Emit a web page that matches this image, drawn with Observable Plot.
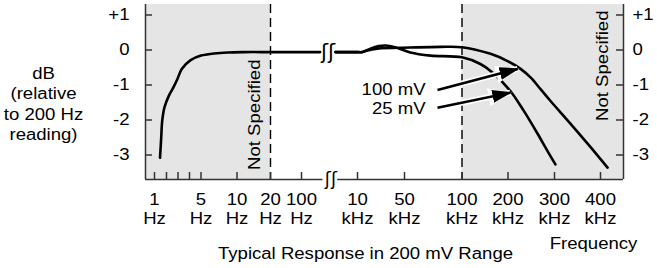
<!DOCTYPE html>
<html><head><meta charset="utf-8">
<script src="https://cdn.jsdelivr.net/npm/d3@7"></script>
<script src="https://cdn.jsdelivr.net/npm/@observablehq/plot@0.6"></script>
<style>
html,body{margin:0;padding:0;background:#fff;}
#chart{width:657px;height:268px;overflow:hidden;}
</style></head><body><div id="chart"></div>
<script>
// ---- data ----
const xTicks = [1, 2, 3, 4, 5, 10, 20, 100, 10000, 50000, 100000, 200000, 300000, 400000];
const xTickLabels = ["1\nHz", "", "", "", "5\nHz", "10\nHz", "20\nHz", "100\nHz", "10\nkHz", "50\nkHz", "100\nkHz", "200\nkHz", "300\nkHz", "400\nkHz"];
const yTicks = [1, 0, -1, -2, -3];
const yTickLabels = ["+1", "0", "-1", "-2", "-3"];

// common low-frequency segment (before the axis break)
const lowFreq = [1.46, 1.56, 1.64, 1.83, 2.2, 2.6, 2.95, 3.33, 4.1, 5, 6.8, 8.7, 12, 20, 100, 3400];
const lowDb   = [-3.08, -2.5, -2.03, -1.64, -1.31, -1.07, -0.83, -0.54, -0.29, -0.16, -0.1, -0.07, -0.06, -0.06, -0.06, -0.06];

// 100 mV curve (after the break)
const mv100Freq = [6100, 10000, 14000, 17600, 27000, 55000, 81000, 100000, 162000, 198000, 227000, 249000, 270000, 291000, 335000, 378000, 416000];
const mv100Db   = [-0.06, -0.06, -0.06, -0.02, 0.04, 0.07, 0.09, 0.08, -0.11, -0.31, -0.54, -0.79, -1.12, -1.45, -2.11, -2.77, -3.36];

// 25 mV curve (after the break)
const mv25Freq = [6100, 10000, 14000, 21000, 28000, 34000, 42000, 55000, 72600, 100000, 140000, 166000, 205000, 234000, 264000, 285000, 302000];
const mv25Db   = [-0.06, -0.06, -0.06, 0.04, 0.11, 0.13, 0.08, -0.07, -0.16, -0.21, -0.40, -0.64, -1.17, -1.74, -2.40, -2.89, -3.27];

const shadeFrom = [0, 100000];
const shadeTo = [20, 452000];
const specLimits = [20, 100000];
const notSpecFreq = [15.2, 405000];
const notSpecDb = [-1.85, -0.45];

const arrowLabels = ["100 mV", "25 mV"];
const labelFreq = [68300, 68300];
const labelDb = [-1.14, -1.68];
const arrowFromFreq = [78700, 78700];
const arrowFromDb = [-1.14, -1.65];
const arrowToFreq = [220600, 205000];
const arrowToDb = [-0.54, -1.22];

const curveBreakFreq = 4800;
const axisBreakFreq = 5300;
const axisSegFrom = [0, 6500];
const axisSegTo = [3900, 452000];
const yMin = -3.70, yMax = 1.30;

// ---- scale anchors (broken, hand-drawn frequency axis) ----
const axisStops = [0, 1, 2, 3, 4, 5, 10, 20, 100, 10000, 50000, 100000, 200000, 300000, 400000, 452000];
const axisPx    = [145, 154, 166, 177.5, 189, 200.5, 236.5, 270, 301, 357, 404, 461.5, 507.5, 554, 600, 623];

const zip2 = (a, b) => a.map((f, i) => ({f, db: b[i]}));
const low = zip2(lowFreq, lowDb);
const c100 = zip2(mv100Freq, mv100Db);
const c25 = zip2(mv25Freq, mv25Db);
const shades = shadeFrom.map((a, i) => ({a, b: shadeTo[i]}));
const notSpec = notSpecFreq.map((f, i) => ({f, db: notSpecDb[i]}));
const arrows = arrowLabels.map((t, i) => ({t, lf: labelFreq[i], ld: labelDb[i], x1: arrowFromFreq[i], y1: arrowFromDb[i], x2: arrowToFreq[i], y2: arrowToDb[i]}));
const axisSegs = axisSegFrom.map((a, i) => ({a, b: axisSegTo[i]}));
const xFmt = new Map(xTicks.map((t, i) => [t, xTickLabels[i]]));
const yFmt = new Map(yTicks.map((t, i) => [t, yTickLabels[i]]));

const W = 657, H = 268, mL = 145, mR = 34, mT = 4, mB = 89;
const frameW = W - mL - mR, frameH = H - mT - mB;
const axisColor = "#333";

const plot = Plot.plot({
  width: W, height: H,
  marginLeft: mL, marginRight: mR, marginTop: mT, marginBottom: mB,
  style: {fontFamily: "'Liberation Sans', Arial, Helvetica, sans-serif", fontSize: "16px", background: "#fff", overflow: "visible"},
  x: {type: "linear", domain: axisStops, range: axisPx, axis: null},
  y: {domain: [yMin, yMax], axis: null},
  marks: [
    Plot.rect(shades, {x1: "a", x2: "b", fill: "#e5e5e5"}),
    Plot.ruleX(specLimits, {stroke: "#000", strokeWidth: 1.4, strokeDasharray: "9,5"}),
    // frame sides
    Plot.ruleX([axisStops[0], axisStops[axisStops.length - 1]], {stroke: axisColor, strokeWidth: 1.5}),
    Plot.ruleY(axisSegs, {y: yMin, x1: "a", x2: "b", stroke: axisColor, strokeWidth: 1.5}),
    // inner ticks
    Plot.tickX(xTicks, {x: d => d, insetTop: frameH - 7, stroke: axisColor, strokeWidth: 1.5}),
    Plot.tickY(yTicks, {y: d => d, insetRight: frameW - 7, stroke: axisColor, strokeWidth: 1.5}),
    Plot.tickY(yTicks, {y: d => d, insetLeft: frameW - 7, stroke: axisColor, strokeWidth: 1.5}),
    // curves
    Plot.line(low, {x: "f", y: "db", stroke: "#000", strokeWidth: 2.6, curve: "catmull-rom"}),
    Plot.line(c25, {x: "f", y: "db", stroke: "#000", strokeWidth: 2.6, curve: "catmull-rom"}),
    Plot.line(c100, {x: "f", y: "db", stroke: "#000", strokeWidth: 2.6, curve: "catmull-rom"}),
    // break symbols
    Plot.text([curveBreakFreq], {x: d => d, y: -0.06, text: () => "ʃʃ", fontSize: 21, fontFamily: "DejaVu Sans"}),
    Plot.text([axisBreakFreq], {x: d => d, y: yMin, text: () => "ʃʃ", fontSize: 18, fontFamily: "DejaVu Sans"}),
    // "Not Specified"
    Plot.text(notSpec, {x: "f", y: "db", text: () => "Not Specified", rotate: -90}),
    // arrows
    Plot.link(arrows, {x1: "x1", y1: "y1", x2: "x2", y2: "y2", stroke: "#fff", strokeWidth: 6}),
    Plot.link(arrows, {x1: "x1", y1: "y1", x2: "x2", y2: "y2", stroke: "#000", strokeWidth: 2.6}),
    Plot.text(arrows, {x: "lf", y: "ld", text: "t", textAnchor: "end"}),
    // axes
    Plot.axisX({ticks: xTicks, tickFormat: d => xFmt.get(d), tickSize: 0, tickPadding: 12, lineHeight: 1.19, fill: "#000"}),
    Plot.axisY({anchor: "left", ticks: yTicks, tickFormat: d => yFmt.get(d), tickSize: 0, tickPadding: 16, fill: "#000"}),
    Plot.axisY({anchor: "right", ticks: yTicks, tickFormat: d => yFmt.get(d), tickSize: 0, tickPadding: 9, fill: "#000"}),
    // titles
    Plot.text(["dB\n(relative\nto 200 Hz\nreading)"], {frameAnchor: "left", dx: -102, dy: 11, textAnchor: "middle", lineAnchor: "middle", lineHeight: 1.27}),
    Plot.text(["Typical Response in 200 mV Range"], {frameAnchor: "bottom", dx: -19, dy: 74, textAnchor: "middle", lineAnchor: "middle"}),
    Plot.text(["Frequency"], {frameAnchor: "bottom-right", dx: -30, dy: 64, textAnchor: "middle", lineAnchor: "middle"})
  ]
});

document.getElementById("chart").appendChild(plot);

// widen glyphs (the original lettering is a wide sans)
const STRETCH = 1.16;
plot.querySelectorAll("text").forEach(t => {
  if (t.textContent.includes("ʃ")) return;
  const spans = t.querySelectorAll("tspan");
  const targets = spans.length ? Array.from(spans) : [t];
  targets.forEach(el => {
    const w = el.getComputedTextLength();
    if (w > 0) {
      el.setAttribute("textLength", (w * STRETCH).toFixed(2));
      el.setAttribute("lengthAdjust", "spacingAndGlyphs");
    }
  });
});

// filled arrowheads via SVG markers
const svg = d3.select(plot);
const defs = svg.insert("defs", ":first-child");
function marker(id, fill, len, half) {
  defs.append("marker").attr("id", id)
    .attr("viewBox", `0 0 ${len} ${2 * half}`).attr("refX", len - 2).attr("refY", half)
    .attr("markerWidth", len).attr("markerHeight", 2 * half)
    .attr("markerUnits", "userSpaceOnUse").attr("orient", "auto")
    .append("path").attr("d", `M0,0L${len},${half}L0,${2 * half}Z`).attr("fill", fill);
}
marker("headHalo", "#fff", 24, 9);
marker("head", "#000", 20, 6.5);
const linkGroups = svg.selectAll('g[aria-label="link"]').nodes();
d3.select(linkGroups[0]).selectAll("path").attr("marker-end", "url(#headHalo)");
d3.select(linkGroups[1]).selectAll("path").attr("marker-end", "url(#head)");
</script></body></html>
